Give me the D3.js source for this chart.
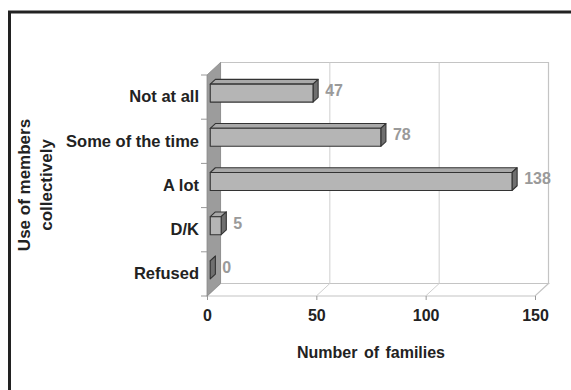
<!DOCTYPE html>
<html>
<head>
<meta charset="utf-8">
<script src="https://cdn.jsdelivr.net/npm/d3@7"></script>
<style>
  html, body { margin: 0; padding: 0; background: #fff; }
  svg { display: block; font-family: "Liberation Sans", Arial, sans-serif; }
</style>
</head>
<body>
<svg id="chart" width="571" height="390"></svg>
<script>
// Survey answers: how often members were used collectively
const categories = ["Not at all", "Some of the time", "A lot", "D/K", "Refused"];
const families = [47, 78, 138, 5, 0];
const xTicks = [0, 50, 100, 150];
const xTitle = "Number of families";
const yTitleLines = ["Use of members", "collectively"];

const svg = d3.select("#chart");

// front plane of the 3-D plot box and the depth vector to its back wall
const front = { left: 207, right: 535, top: 75, bottom: 296 };
const DX = 13.5, DY = -12.5;

const x = d3.scaleLinear().domain([0, 150]).range([front.left, front.right]);
const y = d3.scaleBand().domain(categories).range([front.top, front.bottom]).padding(0);

const P = (px, py, f) => [px + f * DX, py + f * DY];
const poly = pts => pts.map(p => p.join(",")).join(" ");

// outer frame
svg.append("path")
  .attr("d", "M9.5,390 V12 H571")
  .attr("fill", "none").attr("stroke", "#222").attr("stroke-width", 3);

// back wall
const bw = [P(front.left, front.top, 1), P(front.right, front.top, 1),
            P(front.right, front.bottom, 1), P(front.left, front.bottom, 1)];
svg.append("polygon").attr("points", poly(bw))
  .attr("fill", "#fff").attr("stroke", "#c4c4c4").attr("stroke-width", 1.2);

// floor
const fl = [P(front.left, front.bottom, 0), P(front.right, front.bottom, 0),
            P(front.right, front.bottom, 1), P(front.left, front.bottom, 1)];
svg.append("polygon").attr("points", poly(fl))
  .attr("fill", "#fff").attr("stroke", "#c4c4c4").attr("stroke-width", 1.2);

// gridlines on the back wall and the matching floor diagonals
const inner = xTicks.filter(t => t > 0 && t < 150);
svg.selectAll("line.grid").data(inner).join("line").attr("class", "grid")
  .attr("x1", d => x(d) + DX).attr("x2", d => x(d) + DX)
  .attr("y1", front.top + DY).attr("y2", front.bottom + DY)
  .attr("stroke", "#cfcfcf").attr("stroke-width", 1);
svg.selectAll("line.floorgrid").data(inner).join("line").attr("class", "floorgrid")
  .attr("x1", d => x(d)).attr("y1", front.bottom)
  .attr("x2", d => x(d) + DX).attr("y2", front.bottom + DY)
  .attr("stroke", "#cfcfcf").attr("stroke-width", 1);

// left side wall
const sw = [P(front.left, front.top, 0), P(front.left, front.top, 1),
            P(front.left, front.bottom, 1), P(front.left, front.bottom, 0)];
svg.append("polygon").attr("points", poly(sw))
  .attr("fill", "#9c9c9c").attr("stroke", "#8a8a8a").attr("stroke-width", 0.8);

// category boundary ticks on the side wall
const bounds = categories.slice(1).map(c => y(c)).concat([front.top, front.bottom]);
svg.selectAll("line.ytick").data(bounds).join("line").attr("class", "ytick")
  .attr("x1", front.left - 6).attr("x2", front.left)
  .attr("y1", d => d).attr("y2", d => d)
  .attr("stroke", "#999").attr("stroke-width", 1);

// 3-D bars
const f0 = 0.24, f1 = 0.62, barH = 18;
const bars = svg.append("g");
categories.forEach((c, i) => {
  const v = families[i];
  const yc = y(c) + y.bandwidth() / 2 - 1;
  const y0 = yc - barH / 2, y1 = yc + barH / 2;
  const xa = x(0), xb = x(v);
  const g = bars.append("g")
    .attr("stroke", "#333").attr("stroke-width", 1.1).attr("stroke-linejoin", "round");
  // top face
  g.append("polygon")
    .attr("points", poly([P(xa, y0, f0), P(xb, y0, f0), P(xb, y0, f1), P(xa, y0, f1)]))
    .attr("fill", "#a9a9a9");
  // end face
  g.append("polygon")
    .attr("points", poly([P(xb, y0, f0), P(xb, y0, f1), P(xb, y1, f1), P(xb, y1, f0)]))
    .attr("fill", "#6f6f6f");
  // front face
  const a = P(xa, y0, f0), b = P(xb, y1, f0);
  if (v > 0) {
    g.append("rect")
      .attr("x", a[0]).attr("y", a[1])
      .attr("width", b[0] - a[0]).attr("height", b[1] - a[1])
      .attr("fill", "#b5b5b5");
  }
  // value label
  const e = P(xb, yc, f1);
  svg.append("text")
    .attr("x", e[0] + 7).attr("y", e[1] + 2)
    .attr("dy", "0.35em")
    .attr("fill", "#9a9a9a").attr("font-weight", "bold").attr("font-size", 16)
    .text(v);
});

// x axis
const xAxis = svg.append("g")
  .attr("transform", `translate(0,${front.bottom})`)
  .call(d3.axisBottom(x).tickValues(xTicks).tickSize(4).tickPadding(10).tickFormat(d3.format("d")));
xAxis.select(".domain").remove();
xAxis.selectAll(".tick line").attr("stroke", "#999");
xAxis.selectAll(".tick text")
  .attr("font-family", "Liberation Sans, Arial, sans-serif")
  .attr("font-size", 16).attr("font-weight", "bold").attr("fill", "#222");

// category labels
const yAxis = svg.append("g")
  .attr("transform", `translate(${front.left},0)`)
  .call(d3.axisLeft(y).tickSize(0).tickPadding(8));
yAxis.select(".domain").remove();
yAxis.selectAll(".tick text")
  .attr("font-family", "Liberation Sans, Arial, sans-serif")
  .attr("font-size", 16.5).attr("font-weight", "bold").attr("fill", "#222");

// axis titles
svg.append("text")
  .attr("x", 371).attr("y", 352).attr("dy", "0.35em")
  .attr("text-anchor", "middle")
  .attr("font-size", 16).attr("font-weight", "bold").attr("fill", "#222")
  .attr("word-spacing", 2)
  .text(xTitle);

svg.append("g")
  .attr("transform", "translate(35,185) rotate(-90)")
  .selectAll("text").data(yTitleLines).join("text")
  .attr("x", 0).attr("y", (d, i) => (i - 0.5) * 22)
  .attr("dy", "0.35em")
  .attr("text-anchor", "middle")
  .attr("font-size", 17).attr("font-weight", "bold").attr("fill", "#222")
  .text(d => d);
</script>
</body>
</html>
